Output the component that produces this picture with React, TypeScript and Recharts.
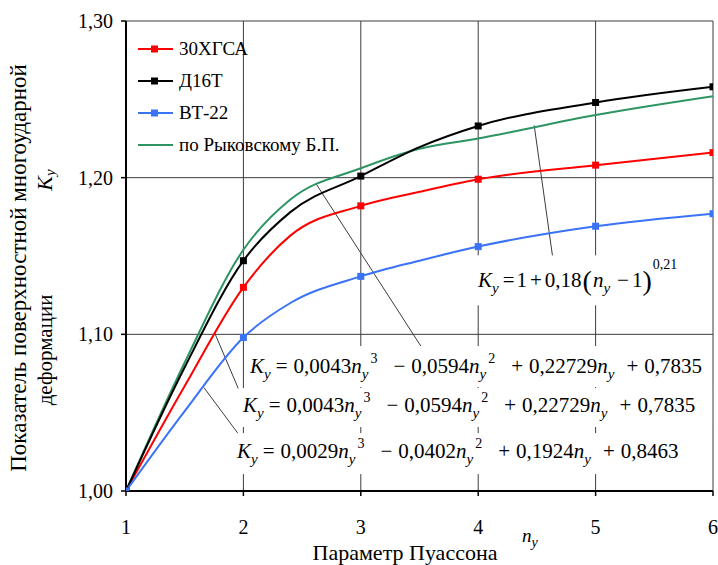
import React from 'react';
import {
  LineChart,
  Line,
  XAxis,
  YAxis,
  CartesianGrid,
  ReferenceLine,
  ReferenceDot,
  Legend,
} from 'recharts';

// ---------- data ----------
const nValues = [1, 1.5, 2, 2.4, 3, 3.5, 4, 5, 6];
const k30XGSA = [1.0, 1.067, 1.13, 1.163, 1.182, 1.191, 1.199, 1.208, 1.216];
const kD16T = [1.0, 1.079, 1.147, 1.178, 1.201, 1.2195, 1.233, 1.248, 1.258];
const kVT22 = [1.0, 1.051, 1.098, 1.12, 1.137, 1.147, 1.156, 1.169, 1.177];
const kRykovsky = [1.0, 1.082, 1.154, 1.186, 1.206, 1.2185, 1.225, 1.24, 1.252];

const xTicks = [1, 2, 3, 4, 5, 6];
const yTicks = [1.0, 1.1, 1.2, 1.3];
const seriesNames = ['30ХГСА', 'Д16Т', 'ВТ-22', 'по Рыковскому Б.П.'];
const xTitle = 'Параметр Пуассона';
const yTitleLine1 = 'Показатель поверхностной многоударной';
const yTitleLine2 = 'деформации';

// formula text pieces: [text, kind, gap before]
type Part = [string, string, number?];
const formulaBlack: Part[] = [
  ['K', 'i'], ['y', 'sub'], ['=', '', 5], ['0,0043', '', 6], ['n', 'i'], ['y', 'sub'], ['3', 'sup'],
  ['−', '', 16], ['0,0594', '', 6], ['n', 'i'], ['y', 'sub'], ['2', 'sup'],
  ['+', '', 16], ['0,22729', '', 6], ['n', 'i'], ['y', 'sub'], ['+', '', 12], ['0,7835', '', 6],
];
const formulaRed: Part[] = formulaBlack;
const formulaBlue: Part[] = [
  ['K', 'i'], ['y', 'sub'], ['=', '', 5], ['0,0029', '', 6], ['n', 'i'], ['y', 'sub'], ['3', 'sup'],
  ['−', '', 16], ['0,0402', '', 6], ['n', 'i'], ['y', 'sub'], ['2', 'sup'],
  ['+', '', 16], ['0,1924', '', 6], ['n', 'i'], ['y', 'sub'], ['+', '', 12], ['0,8463', '', 6],
];
const formulaRyk: Part[] = [
  ['K', 'i'], ['y', 'sub'], ['=', '', 4], ['1', '', 2], ['+', '', 3], ['0,18', '', 3],
  ['(', 'big', 1], ['n', 'i', 1], ['y', 'sub'], ['−', '', 7], ['1', '', 3], [')', 'big'], ['0,21', 'sup2', 1],
];

// annotation placement (data coordinates)
const formulaNotes = [
  { n: 2.056, k: 1.0753, parts: formulaBlack, boxW: 466, top: 27, bottom: 14 },
  { n: 1.997, k: 1.0504, parts: formulaRed, boxW: 473, top: 24, bottom: 15 },
  { n: 1.945, k: 1.021, parts: formulaBlue, boxW: 460, top: 25, bottom: 16 },
  { n: 3.998, k: 1.13, parts: formulaRyk, boxW: 232, top: 32, bottom: 18 },
];
const leaderLines = [
  [{ x: 2.62, y: 1.196 }, { x: 3.52, y: 1.0915 }],
  [{ x: 1.752, y: 1.1015 }, { x: 1.956, y: 1.0655 }],
  [{ x: 1.664, y: 1.066 }, { x: 1.97, y: 1.0351 }],
  [{ x: 4.477, y: 1.2334 }, { x: 4.633, y: 1.15 }],
];

// ---------- styles ----------
const FONT = 'Liberation Serif, Times New Roman, serif';
const C_RED = '#ff0000';
const C_BLACK = '#000000';
const C_BLUE = '#3b73f6';
const C_GREEN = '#2e9463';
const seriesColors = [C_RED, C_BLACK, C_BLUE, C_GREEN];

const toPoints = (ys: number[]) => nValues.map((n, i) => ({ n, k: ys[i] }));

const squareDot = (color: string) => (props: any) => {
  const { cx, cy, payload, index } = props;
  if (!Number.isInteger(payload.n)) return <g key={`d-${index}`} />;
  return <rect key={`d-${index}`} x={cx - 3.5} y={cy - 3.5} width={7} height={7} fill={color} />;
};

function Formula({ x, y, parts, boxW, top, bottom }: any) {
  const spans = parts.map(([t, s, gap]: Part, i: number) => {
    const dx = gap || 0;
    if (s === 'i') return <tspan key={i} dx={dx} y={y} fontStyle="italic" fontSize={21}>{t}</tspan>;
    if (s === 'sub') return <tspan key={i} dx={dx} y={y + 6} fontStyle="italic" fontSize={15}>{t}</tspan>;
    if (s === 'sup') return <tspan key={i} dx={dx + 2} y={y - 10} fontSize={14}>{t}</tspan>;
    if (s === 'sup2') return <tspan key={i} dx={dx} y={y - 18} fontSize={14}>{t}</tspan>;
    if (s === 'big') return <tspan key={i} dx={dx} y={y + 3} fontSize={28}>{t}</tspan>;
    return <tspan key={i} dx={dx} y={y} fontSize={21}>{t}</tspan>;
  });
  return (
    <g>
      <rect x={x - 4} y={y - top} width={boxW} height={top + bottom} fill="#ffffff" />
      <text x={x} y={y} fontFamily={FONT} fill="#000" style={{ whiteSpace: 'pre' }}>
        {spans}
      </text>
    </g>
  );
}

function YTitle({ viewBox }: any) {
  const vb = viewBox || { x: 0, y: 21, width: 126, height: 470 };
  const x1 = vb.x + 18;
  const y1 = vb.y + 247;
  const x2 = vb.x + 45;
  const y2 = vb.y + 329;
  const xk = vb.x + 44;
  const yk = vb.y + 159;
  return (
    <g fontFamily={FONT} fill="#000">
      <text x={x1} y={y1} transform={`rotate(-90 ${x1} ${y1})`} textAnchor="middle" dominantBaseline="central" fontSize={23}>
        {yTitleLine1}
      </text>
      <text x={x2} y={y2} transform={`rotate(-90 ${x2} ${y2})`} textAnchor="middle" dominantBaseline="central" fontSize={21}>
        {yTitleLine2}
      </text>
      <text x={xk} y={yk} transform={`rotate(-90 ${xk} ${yk})`} textAnchor="middle" dominantBaseline="central" fontSize={22}>
        <tspan fontStyle="italic">K</tspan>
        <tspan fontStyle="italic" fontSize={15} dy={6}>y</tspan>
      </text>
    </g>
  );
}

function XTitle({ viewBox }: any) {
  const vb = viewBox || { x: 126, y: 491, width: 587, height: 74 };
  const cx = vb.x + 279;
  const by = vb.y + 69;
  return (
    <g fontFamily={FONT} fill="#000">
      <text x={cx} y={by} textAnchor="middle" fontSize={22}>{xTitle}</text>
      <text x={vb.x + 396} y={vb.y + 51} fontSize={19} fontStyle="italic">
        <tspan>n</tspan>
        <tspan fontSize={14} dy={5}>y</tspan>
      </text>
    </g>
  );
}

function LegendBox() {
  return (
    <div style={{ fontFamily: FONT, fontSize: 19, color: '#000' }}>
      {seriesNames.map((name, i) => (
        <div key={name} style={{ display: 'flex', alignItems: 'center', height: 32 }}>
          <svg width={41} height={14} style={{ display: 'block' }}>
            <line x1={0} y1={7} x2={35} y2={7} stroke={seriesColors[i]} strokeWidth={2} />
            {i < 3 && <rect x={13} y={3.5} width={7} height={7} fill={seriesColors[i]} />}
          </svg>
          <span style={{ whiteSpace: 'nowrap' }}>{name}</span>
        </div>
      ))}
    </div>
  );
}

const fmtY = (v: number) => v.toFixed(2).replace('.', ',');

export default function App() {
  return (
    <div style={{ position: 'absolute', left: 0, top: 0, width: 718, height: 565, background: '#fff' }}>
      <LineChart width={718} height={565} margin={{ top: 21, right: 5, bottom: 0, left: 0 }}>
        <CartesianGrid stroke="#3c3c3c" strokeWidth={1} />
        <XAxis
          dataKey="n"
          type="number"
          domain={[1, 6]}
          ticks={xTicks}
          allowDataOverflow
          height={74}
          tickSize={5}
          tickMargin={24}
          axisLine={{ stroke: '#000', strokeWidth: 2 }}
          tickLine={{ stroke: '#000', strokeWidth: 1.5 }}
          tick={{ fill: '#000', fontSize: 20, fontFamily: FONT }}
          label={{ content: (p: any) => <XTitle viewBox={p.viewBox} /> }}
        />
        <YAxis
          type="number"
          domain={[1, 1.3]}
          ticks={yTicks}
          allowDataOverflow
          width={126}
          tickSize={5}
          tickMargin={8}
          tickFormatter={fmtY}
          axisLine={{ stroke: '#000', strokeWidth: 2 }}
          tickLine={{ stroke: '#000', strokeWidth: 1.5 }}
          tick={{ fill: '#000', fontSize: 20, fontFamily: FONT }}
          label={{ content: (p: any) => <YTitle viewBox={p.viewBox} /> }}
        />
        <Legend
          layout="vertical"
          align="center"
          verticalAlign="middle"
          wrapperStyle={{ top: 33, left: 138, width: 240, height: 130 }}
          content={() => <LegendBox />}
        />
        {leaderLines.map((seg, i) => (
          <ReferenceLine key={`ll-${i}`} segment={seg as any} stroke="#3c3c3c" strokeWidth={1} ifOverflow="visible" />
        ))}
        {formulaNotes.map((f, i) => (
          <ReferenceDot
            key={`fn-${i}`}
            x={f.n}
            y={f.k}
            r={0}
            fill="none"
            stroke="none"
            ifOverflow="visible"
            label={{
              content: (p: any) => (
                <Formula
                  x={p.viewBox.x}
                  y={p.viewBox.y}
                  parts={f.parts}
                  boxW={f.boxW}
                  top={f.top}
                  bottom={f.bottom}
                />
              ),
            }}
          />
        ))}
        <Line
          data={toPoints(kRykovsky)}
          dataKey="k"
          name={seriesNames[3]}
          type="monotone"
          stroke={C_GREEN}
          strokeWidth={2}
          dot={false}
          activeDot={false}
          isAnimationActive={false}
        />
        <Line
          data={toPoints(k30XGSA)}
          dataKey="k"
          name={seriesNames[0]}
          type="monotone"
          stroke={C_RED}
          strokeWidth={2}
          dot={squareDot(C_RED)}
          activeDot={false}
          isAnimationActive={false}
        />
        <Line
          data={toPoints(kD16T)}
          dataKey="k"
          name={seriesNames[1]}
          type="monotone"
          stroke={C_BLACK}
          strokeWidth={2}
          dot={squareDot(C_BLACK)}
          activeDot={false}
          isAnimationActive={false}
        />
        <Line
          data={toPoints(kVT22)}
          dataKey="k"
          name={seriesNames[2]}
          type="monotone"
          stroke={C_BLUE}
          strokeWidth={2}
          dot={squareDot(C_BLUE)}
          activeDot={false}
          isAnimationActive={false}
        />
      </LineChart>
    </div>
  );
}
